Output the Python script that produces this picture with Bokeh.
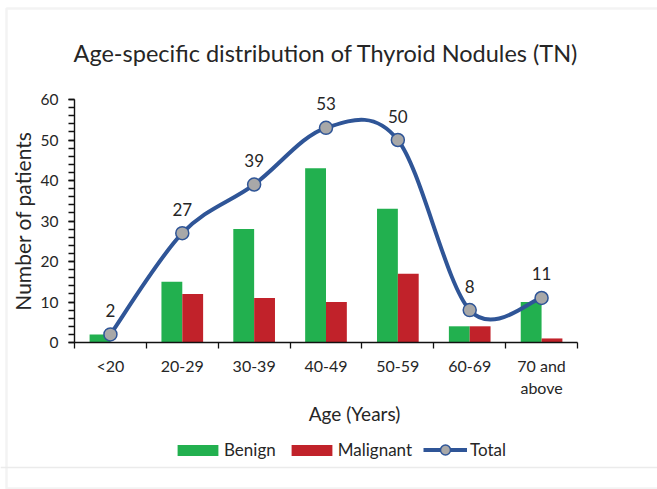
import math
from bokeh.plotting import figure
from bokeh.models import (Range1d, FixedTicker, SingleIntervalTicker, Label,
                          Legend, LegendItem, ColumnDataSource, BoxAnnotation, Span)
from bokeh.transform import dodge
from bokeh.core.properties import value
from bokeh.embed import file_html
from bokeh.resources import INLINE

# ---- data ----
categories = ["<20", "20-29", "30-39", "40-49", "50-59", "60-69", "70 and\nabove"]
benign = [2, 15, 28, 43, 33, 4, 10]
malignant = [0, 12, 11, 10, 17, 4, 1]
total = [2, 27, 39, 53, 50, 8, 11]
y_ticks = [0, 10, 20, 30, 40, 50, 60]

FONT = "Lato"
GREEN = "#22B04F"
RED = "#C1222A"
BLUE = "#2F5597"
TXT = "#262626"

# ---- layout (pixels of the page) ----
W, H = 657, 489
PL, PR, PT, PB = 74, 577, 99, 342      # plot area edges

ncat = len(categories)
ymax = y_ticks[-1]
xs = ncat / (PR - PL)
ys = ymax / (PB - PT)
x_range = Range1d(-PL * xs, ncat + (W - PR) * xs)
y_range = Range1d(-(H - PB) * ys, ymax + PT * ys)

xc = [i + 0.5 for i in range(ncat)]
source = ColumnDataSource(dict(x=xc, benign=benign, malignant=malignant,
                               total=total, lbl=[str(t) for t in total]))

p = figure(width=W, height=H, x_range=x_range, y_range=y_range,
           output_backend="svg", toolbar_location=None, min_border=0)
p.title.visible = False
p.outline_line_color = None
p.xgrid.visible = False
p.ygrid.visible = False

# chart border (light grey frame)
p.add_layout(BoxAnnotation(left=6, right=W + 20, top=H - 8, bottom=1,
                           left_units="screen", right_units="screen",
                           top_units="screen", bottom_units="screen",
                           fill_alpha=0, line_color="#d6d6d6", line_width=2.5))
p.add_layout(Span(location=H - 467, location_units="screen", dimension="width",
                  line_color="#ebebeb", line_width=1.5))

bw = 0.29
rb = p.vbar(x=dodge("x", -bw / 2), top="benign", width=bw, source=source,
            fill_color=GREEN, line_color=None)
rm = p.vbar(x=dodge("x", bw / 2), top="malignant", width=bw, source=source,
            fill_color=RED, line_color=None)

# smooth (Catmull-Rom style Bezier) line through totals
n = len(total)
bz = dict(x0=[], y0=[], x1=[], y1=[], cx0=[], cy0=[], cx1=[], cy1=[])
for i in range(n - 1):
    i0 = max(i - 1, 0)
    i3 = min(i + 2, n - 1)
    x0, y0 = xc[i0], total[i0]
    x1, y1 = xc[i], total[i]
    x2, y2 = xc[i + 1], total[i + 1]
    x3, y3 = xc[i3], total[i3]
    bz["x0"].append(x1); bz["y0"].append(y1)
    bz["x1"].append(x2); bz["y1"].append(y2)
    bz["cx0"].append(x1 + (x2 - x0) / 6); bz["cy0"].append(y1 + (y2 - y0) / 6)
    bz["cx1"].append(x2 - (x3 - x1) / 6); bz["cy1"].append(y2 - (y3 - y1) / 6)
rl = p.bezier(x0="x0", y0="y0", x1="x1", y1="y1", cx0="cx0", cy0="cy0",
              cx1="cx1", cy1="cy1", source=ColumnDataSource(bz),
              line_color=BLUE, line_width=4)
rs = p.scatter("x", "total", source=source, marker="circle", size=13,
               fill_color="#A8A8A8", line_color=BLUE, line_width=1.5)
p.text("x", "total", text="lbl", source=source, y_offset=-24,
       text_align="center", text_baseline="middle",
       text_font=value(FONT), text_font_size="17px", text_color=TXT)

# axes (fixed at the data origin)
xa = p.xaxis[0]
xa.fixed_location = 0
xa.bounds = (0, ncat)
xa.ticker = FixedTicker(ticks=xc, minor_ticks=list(range(ncat + 1)))
xa.major_label_overrides = {float(x): c for x, c in zip(xc, categories)}
xa.major_tick_out = 0
xa.major_tick_in = 0
xa.minor_tick_out = 6
xa.minor_tick_in = 0
xa.major_label_standoff = 7
ya = p.yaxis[0]
ya.fixed_location = 0
ya.bounds = (y_ticks[0], ymax)
ya.ticker = SingleIntervalTicker(interval=10, num_minor_ticks=5)
ya.major_tick_out = 6
ya.major_tick_in = 0
ya.minor_tick_out = 6
ya.minor_tick_in = 0
ya.major_label_standoff = 10
for ax in (xa, ya):
    ax.axis_line_color = "#111111"
    ax.axis_line_width = 1.4
    ax.major_tick_line_color = "#111111"
    ax.minor_tick_line_color = "#111111"
    ax.major_tick_line_width = 1.3
    ax.minor_tick_line_width = 1.3
    ax.major_label_text_font = FONT
    ax.major_label_text_color = TXT
xa.major_label_text_font_size = "16px"
ya.major_label_text_font_size = "15.5px"

# titles
p.add_layout(Label(x=(PL + PR) / 2, y=H - 52, x_units="screen", y_units="screen",
                   text="Age-specific distribution of Thyroid Nodules (TN)",
                   text_align="center", text_baseline="middle",
                   text_font=FONT, text_font_size="23.5px", text_color=TXT))
p.add_layout(Label(x=354, y=H - 413, x_units="screen", y_units="screen",
                   text="Age (Years)", text_align="center", text_baseline="middle",
                   text_font=FONT, text_font_size="19px", text_color=TXT))
p.add_layout(Label(x=22, y=H - (PT + PB) / 2, x_units="screen", y_units="screen",
                   angle=math.pi / 2, text="Number of patients",
                   text_align="center", text_baseline="middle",
                   text_font=FONT, text_font_size="21px", text_color=TXT))

leg_common = dict(orientation="horizontal", padding=0, margin=0,
                  border_line_color=None, background_fill_alpha=0,
                  label_text_font=FONT, label_text_font_size="17px",
                  label_text_color=TXT)
leg1 = Legend(items=[LegendItem(label="Benign", renderers=[rb]),
                     LegendItem(label="Malignant", renderers=[rm])],
              location=(172, H - 460), glyph_width=51, glyph_height=14,
              label_standoff=1, spacing=10, **leg_common)
leg2 = Legend(items=[LegendItem(label="Total", renderers=[rl, rs])],
              location=(423, H - 462), glyph_width=44, glyph_height=25,
              label_standoff=3, spacing=0, **leg_common)
p.add_layout(leg1)
p.add_layout(leg2)

open("out.html", "w").write(file_html(p, INLINE))
